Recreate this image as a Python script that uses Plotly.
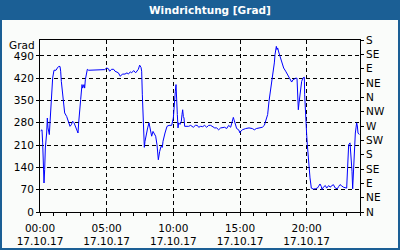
import plotly.graph_objects as go
import pandas as pd

# ---- data (hours after 17.10.17 00:00, wind direction in degrees) ----
hours = [
    0.05, 0.15, 0.2, 0.25, 0.3, 0.35, 0.4, 0.5, 0.55, 0.6, 0.7, 0.75, 0.8, 0.85, 0.95,
    1.05, 1.2, 1.3, 1.4, 1.5, 1.55, 1.6, 1.7, 1.75, 1.85, 2.0, 2.15, 2.25, 2.35, 2.45,
    2.55, 2.65, 2.75, 2.85, 2.9, 2.95, 3.05, 3.15, 3.2, 3.3, 3.35, 3.4, 3.5, 3.55, 3.65,
    3.75, 4.1, 4.35, 4.6, 4.85, 5.0,
    5.125, 5.225, 5.375, 5.525, 5.625, 5.875, 6.025, 6.175, 6.375, 6.525, 6.625, 6.775,
    6.875, 7.025, 7.175, 7.375, 7.475, 7.575, 7.625, 7.675, 7.725, 7.775, 7.825, 7.875,
    7.975, 8.075, 8.175, 8.275, 8.375, 8.475, 8.575, 8.675, 8.775, 8.875, 8.975, 9.075,
    9.175, 9.225, 9.375, 9.525, 9.675, 9.875,
    10.0, 10.05, 10.1, 10.15, 10.2, 10.25, 10.3, 10.35, 10.4, 10.5, 10.6, 10.65, 10.7,
    10.75, 10.8, 10.85, 11.0, 11.15, 11.3, 11.4, 11.5, 11.65, 11.8, 11.9, 12.05, 12.2,
    12.35, 12.5, 12.65, 12.8, 12.95, 13.1, 13.25, 13.4, 13.55, 13.7, 13.85, 14.0, 14.15,
    14.3, 14.4, 14.5, 14.55, 14.65, 14.75, 14.9, 15.0, 15.05,
    15.175, 15.425, 15.675, 15.925, 16.075, 16.225, 16.425, 16.675, 16.825, 16.925,
    17.075, 17.175, 17.275, 17.425, 17.525, 17.575, 17.625, 17.725, 17.775, 17.825,
    17.925, 18.025, 18.125, 18.275, 18.425, 18.575, 18.675, 18.775, 18.875, 18.975,
    19.075, 19.175, 19.275, 19.325, 19.375, 19.425, 19.525, 19.625, 19.725, 19.825,
    19.85, 19.9, 19.95, 20.0, 20.05, 20.1, 20.2, 20.25, 20.35, 20.5, 20.65, 20.8, 20.9,
    21.0, 21.1, 21.15, 21.25, 21.4, 21.5, 21.65, 21.75, 21.85, 22.0, 22.15, 22.3, 22.4,
    22.5, 22.6, 22.75, 23.0, 23.05, 23.1, 23.15, 23.25, 23.3, 23.4, 23.45, 23.5, 23.55,
    23.6, 23.65, 23.7, 23.75, 23.8, 23.85, 23.95,
]
direction = [
    255, 258, 217, 133, 91, 133, 201, 248, 295, 264, 243, 280, 321, 368, 421,
    445, 445, 452, 457, 457, 442, 410, 368, 337, 311, 300, 280, 269, 274, 285,
    280, 269, 264, 248, 280, 311, 353, 400, 389, 400, 389, 415, 437, 448, 445,
    445, 445, 445, 446, 447, 452,
    450, 442, 448, 448, 442, 437, 426, 433, 433, 437, 433, 440,
    437, 444, 437, 448, 461, 454, 442, 368, 295, 243, 203, 222,
    248, 264, 280, 258, 238, 253, 243, 238, 211, 164, 190, 206,
    203, 222, 248, 269, 272, 272,
    295, 332, 353, 379, 400, 368, 306, 264, 280, 275, 285, 306, 321,
    300, 295, 269, 269, 269, 272, 269, 266, 272, 272, 266, 269, 268,
    272, 266, 272, 272, 268, 264, 264, 258, 264, 266, 266, 262, 272,
    266, 285, 297, 290, 274, 262, 258, 248, 253,
    258, 262, 264, 262, 258, 262, 264, 266, 272, 285,
    306, 348, 379, 415, 442, 468, 494, 520, 510, 515,
    499, 484, 468, 452, 442, 431, 423, 415, 408, 415,
    419, 420, 420, 348, 321, 342, 384, 410, 421, 423,
    368, 311, 274, 243, 211, 180, 143, 107, 75, 72, 73, 75, 81,
    88, 80, 70, 78, 83, 75, 83, 78, 81, 86, 75, 73, 80,
    86, 83, 78, 75, 128, 180, 211, 217, 190, 128, 73, 128, 190,
    232, 248, 264, 280, 270, 248, 243,
]

day_start = "2017-10-17 00:00"
day_end = "2017-10-18 00:00"
major_hours = [0, 5, 10, 15, 20]
major_labels = ["00:00<br>17.10.17", "05:00<br>17.10.17", "10:00<br>17.10.17",
                "15:00<br>17.10.17", "20:00<br>17.10.17"]
left_ticks = [0, 70, 140, 210, 280, 350, 420, 490]
right_ticks = [0, 45, 90, 135, 180, 225, 270, 315, 360, 405, 450, 495, 540]
right_labels = ["N", "NE", "E", "SE", "S", "SW", "W", "NW", "N", "NE", "E", "SE", "S"]
title_text = "Windrichtung [Grad]"
unit_text = "Grad"

# ---- figure ----
W, H = 400, 250
ML, MR, MT, MB = 40, 40, 40, 38
BLUE = "#1b5f95"
BG = "#fafcfa"
FONT = "DejaVu Sans"

base = pd.Timestamp(day_start)
times = base + pd.to_timedelta(hours, unit="h")
major_times = base + pd.to_timedelta(major_hours, unit="h")

pw, ph = W - ML - MR, H - MT - MB


def pxx(x):
    return (x - ML) / pw


def pxy(y):
    return (H - MB - y) / ph


fig = go.Figure()
fig.add_trace(go.Scatter(x=times, y=direction, mode="lines",
                         line=dict(color="#0000ff", width=1), hoverinfo="skip"))
fig.add_trace(go.Scatter(x=times, y=direction, mode="lines", yaxis="y2",
                         line=dict(color="rgba(0,0,0,0)", width=0), hoverinfo="skip"))

fig.update_layout(
    width=W, height=H,
    margin=dict(l=ML, r=MR, t=MT, b=MB, pad=0, autoexpand=False),
    paper_bgcolor=BLUE, plot_bgcolor=BG,
    showlegend=False,
    font=dict(family=FONT, size=10, color="black"),
    xaxis=dict(
        type="date", range=[day_start, day_end], automargin=False,
        tickmode="array", tickvals=list(major_times), ticktext=major_labels,
        ticks="outside", ticklen=3, tickcolor="black", tickwidth=1,
        ticklabelstandoff=3,
        showline=True, linecolor="black", linewidth=1, mirror=True,
        showgrid=True, gridcolor="black", gridwidth=1, griddash="4px,3px",
        zeroline=False,
        minor=dict(tickmode="linear", tick0=day_start, dtick=3600000,
                   ticks="outside", ticklen=3, tickcolor="black", showgrid=False),
        tickfont=dict(family=FONT, size=10.5, color="black"),
    ),
    yaxis=dict(
        range=[0, 540], tickmode="array", tickvals=left_ticks, automargin=False,
        ticks="outside", ticklen=3, tickcolor="black",
        showline=True, linecolor="black", linewidth=1,
        showgrid=True, gridcolor="black", gridwidth=1, griddash="4px,3px",
        zeroline=False,
        tickfont=dict(family=FONT, size=10.5, color="black"),
    ),
    yaxis2=dict(
        range=[0, 540], overlaying="y", side="right", anchor="x", automargin=False,
        tickmode="array", tickvals=right_ticks, ticktext=right_labels,
        ticks="outside", ticklen=3, tickcolor="black",
        showline=True, linecolor="black", linewidth=1,
        showgrid=False, zeroline=False,
        tickfont=dict(family=FONT, size=10.5, color="black"),
    ),
    shapes=[dict(type="rect", xref="paper", yref="paper", layer="below",
                 x0=pxx(2), x1=pxx(398), y0=pxy(248), y1=pxy(20),
                 fillcolor=BG, line=dict(width=0))],
    annotations=[
        dict(text="<b>" + title_text + "</b>", xref="paper", yref="paper",
             x=pxx(210), y=pxy(10), xanchor="center", yanchor="middle",
             showarrow=False, font=dict(family=FONT, size=10.5, color="white")),
        dict(text=unit_text, xref="paper", yref="paper",
             x=pxx(37), y=pxy(45), xanchor="right", yanchor="middle",
             showarrow=False, font=dict(family=FONT, size=10.5, color="black")),
    ],
)

fig.write_html("out.html")
